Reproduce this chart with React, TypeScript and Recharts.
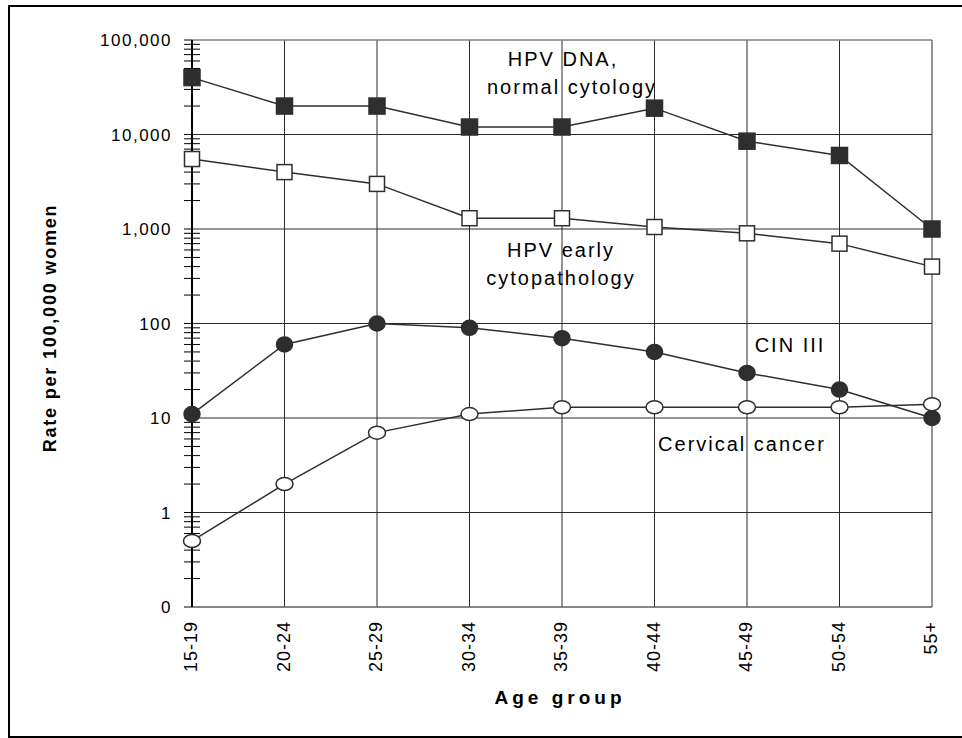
import { CartesianGrid, Line, LineChart, ReferenceLine, XAxis, YAxis } from "recharts";

const ageGroups = ["15-19", "20-24", "25-29", "30-34", "35-39", "40-44", "45-49", "50-54", "55+"];
const hpvDna = [40000, 20000, 20000, 12000, 12000, 19000, 8500, 6000, 1000];
const hpvEarly = [5500, 4000, 3000, 1300, 1300, 1050, 900, 700, 400];
const cin3 = [11, 60, 100, 90, 70, 50, 30, 20, 10];
const cervicalCancer = [0.5, 2, 7, 11, 13, 13, 13, 13, 14];
const yTicks = [0.1, 1, 10, 100, 1000, 10000, 100000];

// minor log ticks 2..9 inside each decade
const minorTicks: number[] = [];
yTicks.slice(0, -1).forEach((d) => {
  for (let m = 2; m <= 9; m++) minorTicks.push(+(d * m).toPrecision(3));
});

const data = ageGroups.map((age, i) => ({
  age,
  hpvDna: hpvDna[i],
  hpvEarly: hpvEarly[i],
  cin3: cin3[i],
  cervicalCancer: cervicalCancer[i],
}));

const FONT = "'Liberation Sans', Arial, sans-serif";
const INK = "#2e2e2e";

const formatY = (v: number) => (v < 1 ? "0" : v.toLocaleString("en-US"));

const squareDot = (filled: boolean) => (props: any) => {
  const { cx, cy, index } = props;
  const s = filled ? 16 : 15;
  return (
    <rect
      key={`sq-${filled}-${index}`}
      x={cx - s / 2}
      y={cy - s / 2}
      width={s}
      height={s}
      fill={filled ? INK : "#fff"}
      stroke={INK}
      strokeWidth={1.5}
    />
  );
};

const roundDot = (filled: boolean) => (props: any) => {
  const { cx, cy, index } = props;
  return (
    <ellipse
      key={`c-${filled}-${index}`}
      cx={cx}
      cy={cy}
      rx={filled ? 8 : 8.5}
      ry={filled ? 7.5 : 6.5}
      fill={filled ? INK : "#fff"}
      stroke={INK}
      strokeWidth={1.5}
    />
  );
};

const XTick = (props: any) => {
  const { x, y, payload } = props;
  return (
    <text
      x={x}
      y={y}
      dy={5}
      transform={`rotate(-90 ${x} ${y})`}
      textAnchor="end"
      fontFamily={FONT}
      fontSize={18}
      fill="#000"
      style={{ letterSpacing: 1 }}
    >
      {payload.value}
    </text>
  );
};

const minorTickShape = (props: any) => {
  const { x1, y1 } = props;
  return <line x1={x1 - 8} x2={x1 + 8} y1={y1} y2={y1} stroke="#000" strokeWidth={1} />;
};

const annotations = [
  { text: "HPV DNA,", x: 563, y: 66 },
  { text: "normal cytology", x: 572, y: 94 },
  { text: "HPV early", x: 561, y: 257 },
  { text: "cytopathology", x: 561, y: 285 },
  { text: "CIN III", x: 790, y: 352 },
  { text: "Cervical cancer", x: 742, y: 451 },
];

export default function App() {
  return (
    <div style={{ position: "absolute", left: 0, top: 0, width: 962, height: 738, background: "#fff" }}>
      <div
        style={{
          position: "absolute",
          left: 8,
          top: 5,
          width: 954,
          height: 733,
          boxSizing: "border-box",
          borderTop: "2px solid #000",
          borderLeft: "2px solid #000",
          borderBottom: "2px solid #000",
        }}
      />
      <div style={{ position: "absolute", left: 0, top: 0 }}>
        <LineChart width={962} height={738} data={data} margin={{ top: 40, right: 30, left: 112, bottom: 41 }}>
          <CartesianGrid stroke="#2a2a2a" strokeWidth={1} />
          <XAxis
            dataKey="age"
            height={90}
            axisLine={{ stroke: "#777" }}
            tickLine={false}
            tickSize={6}
            tickMargin={8}
            tick={<XTick />}
            interval={0}
          />
          <YAxis
            scale="log"
            type="number"
            domain={[0.1, 100000]}
            allowDataOverflow
            ticks={yTicks}
            width={80}
            tickFormatter={formatY}
            axisLine={{ stroke: "#000", strokeWidth: 2 }}
            tickLine={{ stroke: "#000" }}
            tickSize={8}
            tickMargin={12}
            tick={{ fontFamily: FONT, fontSize: 17, fill: "#000", style: { letterSpacing: 1.5 } }}
            interval={0}
          />
          <ReferenceLine y={100000} stroke="#aaa" />
          {minorTicks.map((v) => (
            <ReferenceLine key={`m-${v}`} y={v} shape={minorTickShape} />
          ))}
          <Line
            dataKey="hpvDna"
            stroke={INK}
            strokeWidth={1.5}
            dot={squareDot(true)}
            isAnimationActive={false}
          />
          <Line
            dataKey="hpvEarly"
            stroke={INK}
            strokeWidth={1.5}
            dot={squareDot(false)}
            isAnimationActive={false}
          />
          <Line
            dataKey="cin3"
            stroke={INK}
            strokeWidth={1.5}
            dot={roundDot(true)}
            isAnimationActive={false}
          />
          <Line
            dataKey="cervicalCancer"
            stroke={INK}
            strokeWidth={1.5}
            dot={roundDot(false)}
            isAnimationActive={false}
          />
        </LineChart>
      </div>
      <svg
        width={962}
        height={738}
        style={{ position: "absolute", left: 0, top: 0, pointerEvents: "none" }}
      >
        {annotations.map((a) => (
          <text
            key={a.text}
            x={a.x}
            y={a.y}
            textAnchor="middle"
            fontFamily={FONT}
            fontSize={20}
            fill="#000"
            style={{ letterSpacing: 2 }}
          >
            {a.text}
          </text>
        ))}
        <text
          x={56}
          y={328}
          transform="rotate(-90 56 328)"
          textAnchor="middle"
          fontFamily={FONT}
          fontSize={18}
          fontWeight="bold"
          fill="#000"
          style={{ letterSpacing: 1.8 }}
        >
          Rate per 100,000 women
        </text>
        <text
          x={560}
          y={704}
          textAnchor="middle"
          fontFamily={FONT}
          fontSize={19}
          fontWeight="bold"
          fill="#000"
          style={{ letterSpacing: 4 }}
        >
          Age group
        </text>
      </svg>
    </div>
  );
}
